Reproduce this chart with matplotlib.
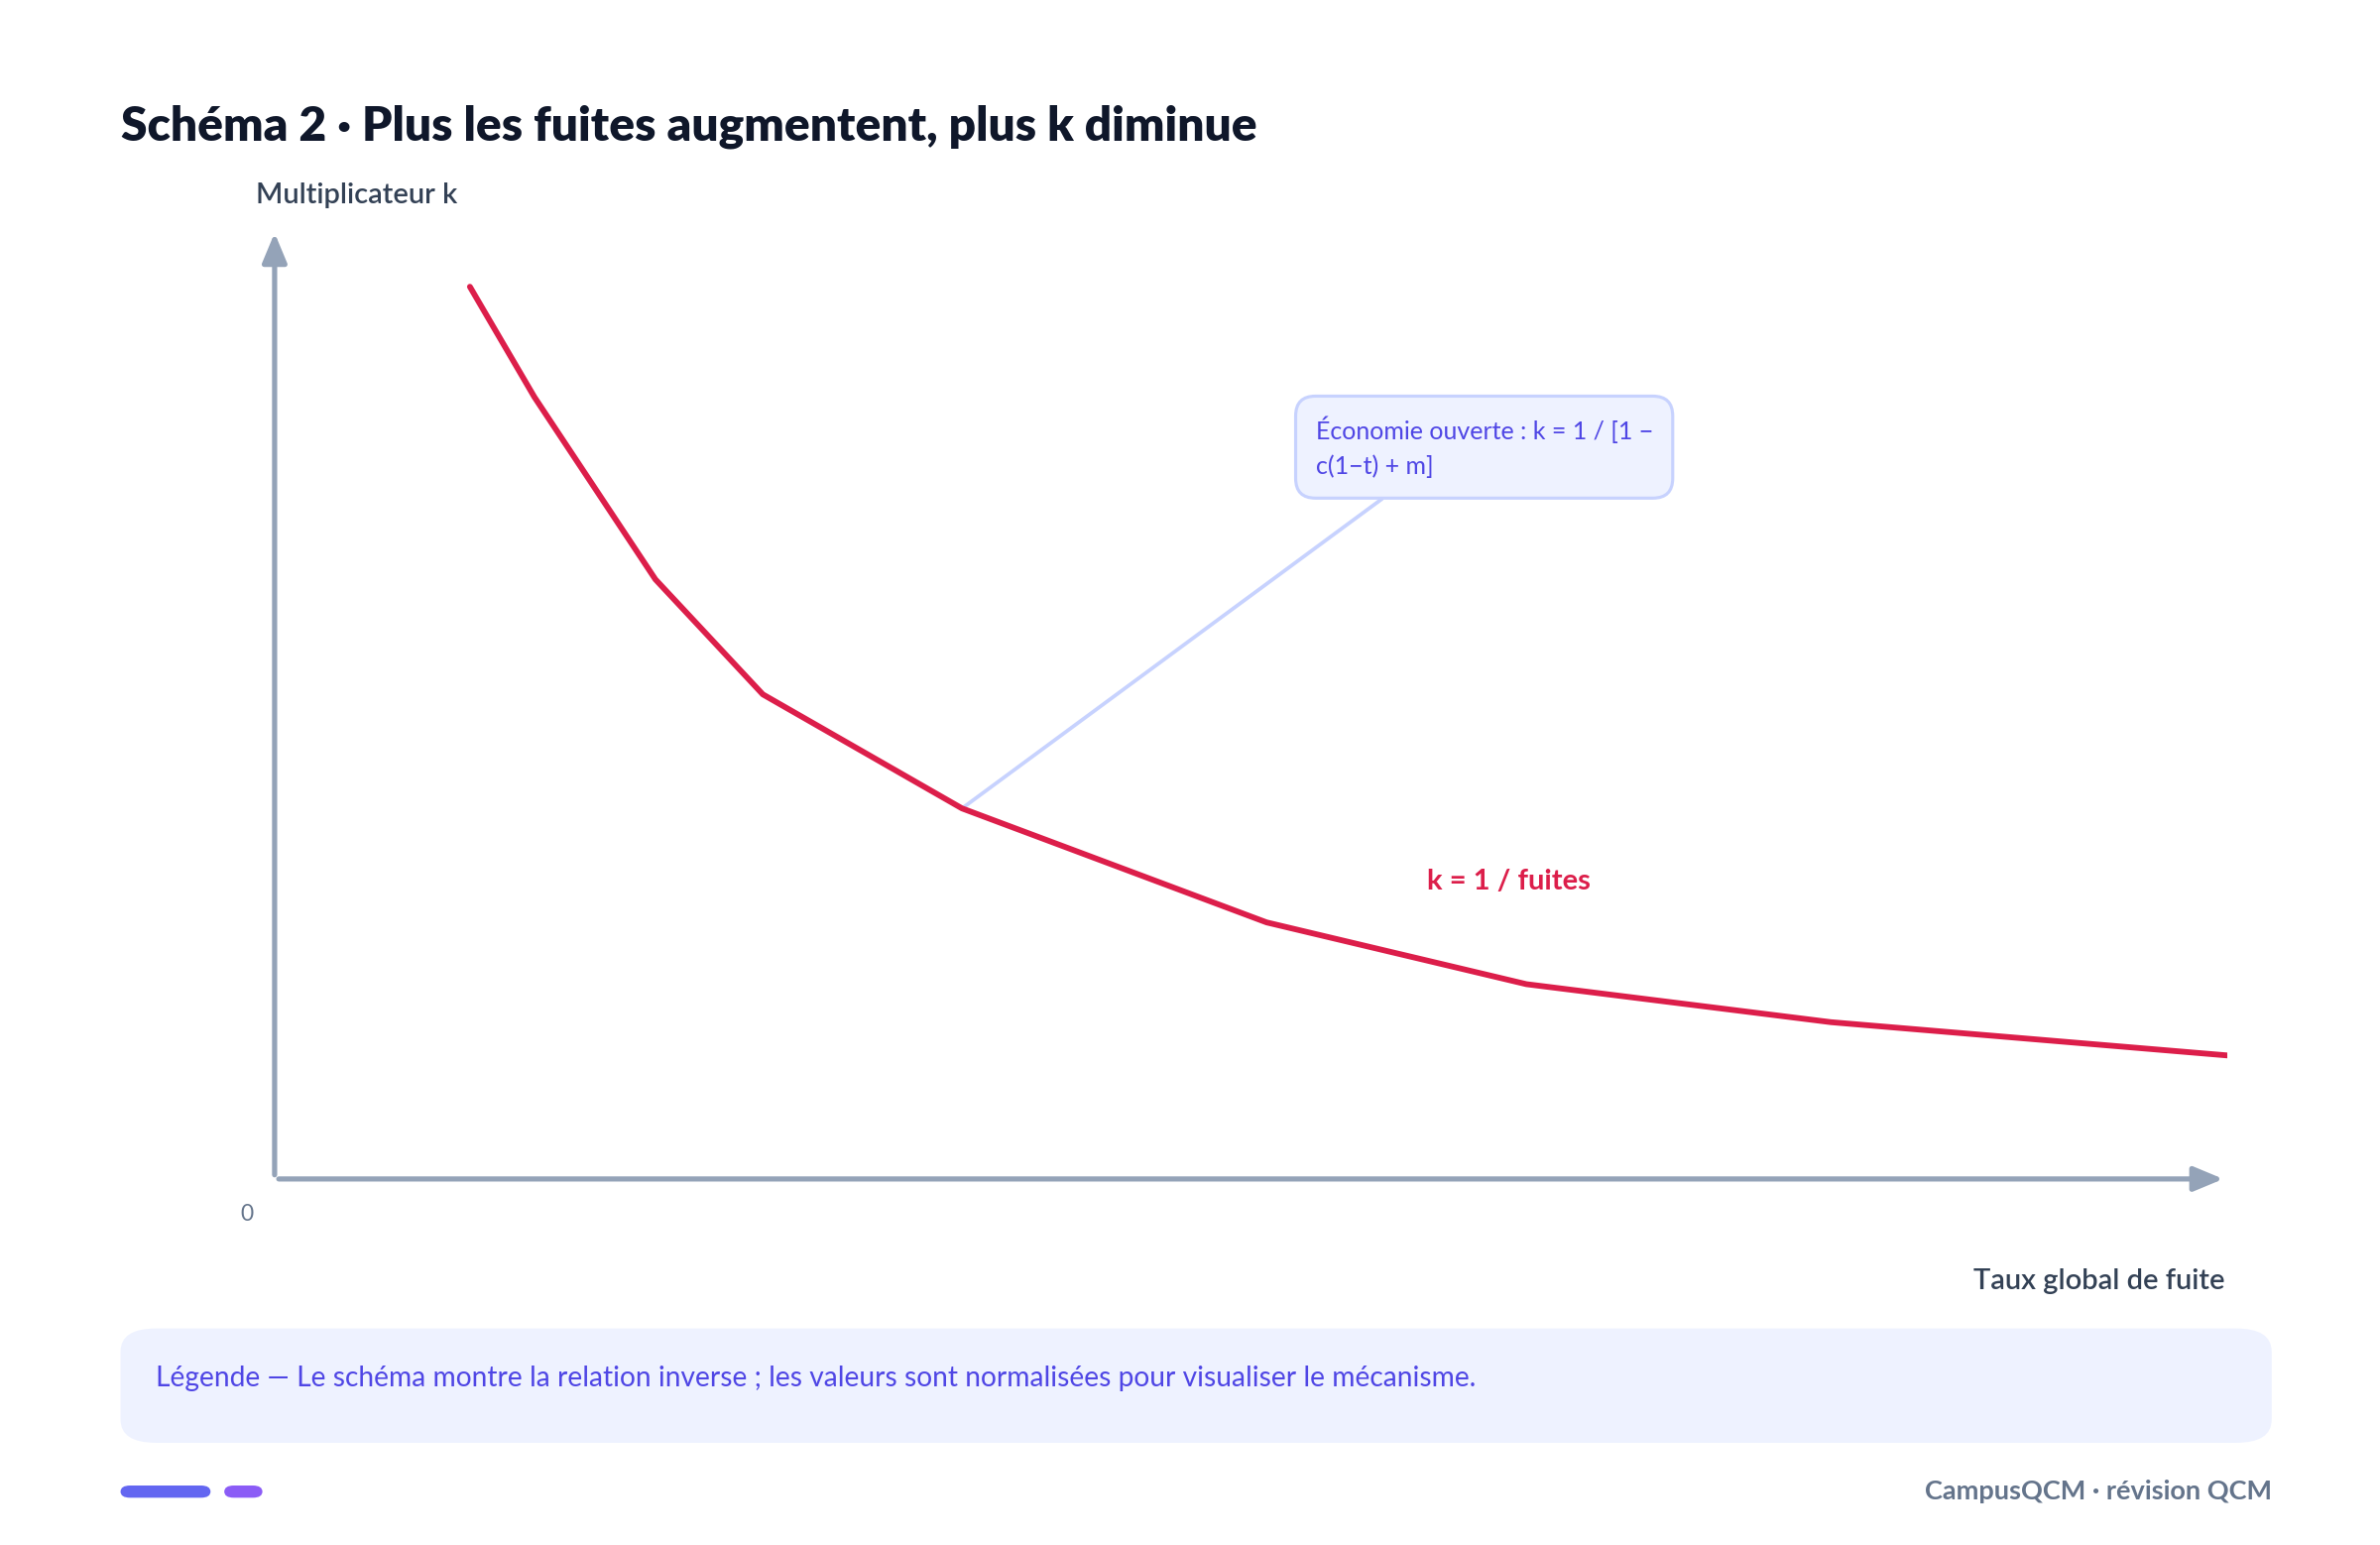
import matplotlib
matplotlib.use("Agg")
import matplotlib.pyplot as plt
from matplotlib.patches import FancyBboxPatch

plt.rcParams['font.family'] = ['Lato', 'DejaVu Sans']

leak = [0.10, 0.133, 0.195, 0.25, 0.352, 0.508, 0.641, 0.797, 1.0]
kval = [0.939, 0.823, 0.631, 0.510, 0.390, 0.270, 0.205, 0.165, 0.130]

W, H = 1560, 1013
fig = plt.figure(figsize=(16, 16*1558/2400), dpi=150)
def fx(x): return x / W
def fy(y): return 1 - y / H

ax = fig.add_axes([fx(180), fy(773), fx(1460) - fx(180), fy(150) - fy(773)])
ax.set_xlim(0, 1); ax.set_ylim(0, 1)
ax.axis('off')
axc = '#94A3B8'
ax.annotate('', xy=(1.0, 0), xytext=(0, 0), xycoords='axes fraction',
            arrowprops=dict(arrowstyle='-|>,head_length=1.2,head_width=0.5', color=axc, lw=2.5), annotation_clip=False)
ax.annotate('', xy=(0, 1.0), xytext=(0, 0), xycoords='axes fraction',
            arrowprops=dict(arrowstyle='-|>,head_length=1.2,head_width=0.5', color=axc, lw=2.5), annotation_clip=False)
ax.plot(leak, kval, color='#DC1E4A', lw=2.8, solid_capstyle='round', zorder=3)

ax.annotate('Économie ouverte : k = 1 / [1 −\nc(1−t) + m]', xy=(0.352, 0.390), xytext=(0.533, 0.803),
            xycoords='data', textcoords='data', fontsize=12, color='#4F46E5', va='top', ha='left',
            linespacing=1.6,
            bbox=dict(boxstyle='round,pad=0.8,rounding_size=0.8', fc='#EEF2FF', ec='#C7D2FE', lw=1.5),
            arrowprops=dict(arrowstyle='-', color='#C7D2FE', lw=1.8, shrinkA=0, shrinkB=0,
                            relpos=(0.28, 0.0)), zorder=2)
ax.text(0.59, 0.313, 'k = 1 / fuites', color='#DC1E4A', fontsize=14, fontweight='bold', va='center')

fig.text(fx(79), fy(83), 'Schéma 2 · Plus les fuites augmentent, plus k diminue', fontsize=23,
         fontweight='heavy', color='#0F172A', va='center')
fig.text(fx(168), fy(128), 'Multiplicateur k', fontsize=14, color='#334155', va='center', fontweight='semibold')
fig.text(fx(162), fy(796), '0', fontsize=11, color='#64748B', va='center', ha='center')
fig.text(fx(1458), fy(840), 'Taux global de fuite', fontsize=14, color='#334155', va='center', ha='right', fontweight='semibold')

fig.patches.append(FancyBboxPatch((fx(79), fy(946)), fx(1489) - fx(79), fy(871) - fy(946),
                                  boxstyle='round,pad=0,rounding_size=0.015', transform=fig.transFigure,
                                  fc='#EEF2FF', ec='none'))
fig.text(fx(102), fy(904), 'Légende — Le schéma montre la relation inverse ; les valeurs sont normalisées pour visualiser le mécanisme.',
         fontsize=13.5, color='#4F46E5', va='center')
fig.patches.append(FancyBboxPatch((fx(79), fy(982)), fx(138) - fx(79), fy(974) - fy(982),
                                  boxstyle='round,pad=0,rounding_size=0.004', transform=fig.transFigure, fc='#6366F1', ec='none'))
fig.patches.append(FancyBboxPatch((fx(147), fy(982)), fx(172) - fx(147), fy(974) - fy(982),
                                  boxstyle='round,pad=0,rounding_size=0.004', transform=fig.transFigure, fc='#8B5CF6', ec='none'))
fig.text(fx(1489), fy(978), 'CampusQCM · révision QCM', fontsize=13, color='#64748B', va='center', ha='right', fontweight='bold')

fig.savefig('out.png', dpi=150, facecolor='white')
